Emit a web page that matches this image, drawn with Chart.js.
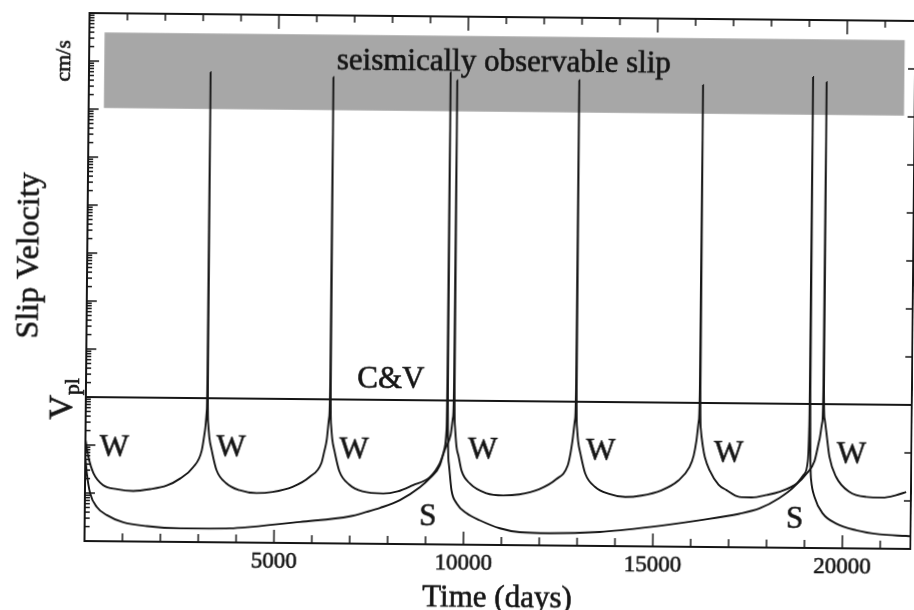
<!DOCTYPE html>
<html>
<head>
<meta charset="utf-8">
<script src="https://cdn.jsdelivr.net/npm/chart.js@4.4.0/dist/chart.umd.min.js"></script>
<style>
  html, body { margin: 0; padding: 0; background: #fff; overflow: hidden; }
  /* the scanned figure sits slightly tilted on the page */
  #wrap { width: 914px; height: 610px; transform: rotate(0.55deg); transform-origin: 500px 281px; }
</style>
</head>
<body>
<div id="wrap"><canvas id="chart" width="914" height="610"></canvas></div>
<script>
// time in days, slip velocity in units of V_pl (log axis)
const wDays = [
  0, 84, 220, 478, 846, 1276, 1719, 2159, 2507, 2847, 3072, 3153, 3195, 3203, 3210,
  3218, 3235, 3270, 3334, 3466, 3729, 4080, 4528, 4950, 5477, 5926, 6234, 6303, 6366, 6426, 6445, 6453,
  6461, 6478, 6513, 6577, 6709, 6972, 7323, 7872, 8250, 8650, 9096, 9357, 9500, 9635, 9695, 9714, 9722,
  9730, 9747, 9795, 9850, 9932, 10153, 10596, 11040, 11460, 11985, 12430, 12735, 12800, 12856, 12916, 12935, 12943,
  12951, 12968, 13003, 13067, 13199, 13462, 13813, 14261, 14683, 15210, 15659, 15950, 16057, 16123, 16183, 16202, 16210,
  16218, 16235, 16299, 16350, 16478, 16720, 16926, 17270, 17600, 18000, 18327, 18799, 19050, 19244, 19370, 19443, 19462, 19470,
  19478, 19500, 19544, 19639, 19821, 20174, 20617, 21047, 21408, 21672
];
const wVel = [
  0.13, 0.056, 0.026, 0.0147, 0.0122, 0.0113, 0.0124, 0.0149, 0.0209, 0.036, 0.081, 0.214, 0.56, 2.0, 6.2e6,
  2.0, 0.30, 0.15, 0.083, 0.032, 0.017, 0.0123, 0.0108, 0.0115, 0.0148, 0.024, 0.047, 0.08, 0.14, 0.42, 2.0, 5.2e6,
  2.0, 0.30, 0.15, 0.083, 0.032, 0.017, 0.0123, 0.0112, 0.0125, 0.0169, 0.025, 0.049, 0.10, 0.19, 0.45, 2.0, 4.7e6,
  2.0, 0.30, 0.108, 0.07, 0.035, 0.019, 0.0119, 0.0108, 0.0114, 0.0148, 0.024, 0.047, 0.08, 0.16, 0.43, 2.0, 5.0e6,
  2.0, 0.30, 0.15, 0.083, 0.032, 0.017, 0.0123, 0.0106, 0.0114, 0.0148, 0.024, 0.046, 0.08, 0.16, 0.43, 2.0, 4.2e6,
  2.0, 0.30, 0.12, 0.075, 0.040, 0.020, 0.0155, 0.0112, 0.0110, 0.0125, 0.0146, 0.0222, 0.036, 0.064, 0.18, 0.43, 2.0, 5.1e6,
  2.0, 0.5, 0.285, 0.080, 0.0305, 0.015, 0.0119, 0.0116, 0.0131, 0.0153
];

const sDays = [
  0, 45, 137, 319, 583, 1015, 1643, 2521, 3839, 4366, 5682, 6997, 7437, 7788, 8313, 8838, 9098, 9359, 9486, 9526, 9537, 9545,
  9553, 9595, 9673, 9810, 10077, 10428, 10957, 11485, 12274, 13593, 14909, 16227, 17277, 17806, 18300, 18720, 18960, 19070, 19098, 19105, 19112,
  19120, 19162, 19255, 19476, 19834, 20364, 20976, 21683, 21800
];
const sVel = [
  0.06, 0.026, 0.0099, 0.0051, 0.0035, 0.0025, 0.0021, 0.00192, 0.00197, 0.00212, 0.00276, 0.0037, 0.0046, 0.0056, 0.0082, 0.0154, 0.0238, 0.0446, 0.106, 0.24, 2.0, 6.9e6,
  2.0, 0.049, 0.0135, 0.00726, 0.00452, 0.00324, 0.00223, 0.00186, 0.0018, 0.00196, 0.00254, 0.00359, 0.0050, 0.0065, 0.0105, 0.019, 0.033, 0.065, 0.3, 2.0, 6.5e6,
  2.0, 0.026, 0.0116, 0.00525, 0.00326, 0.00239, 0.00199, 0.00186, 0.00184
];

const cvDays = [0, 21800];
const cvVel  = [1, 1];

const xTickValues = [1000, 2000, 3000, 4000, 5000, 6000, 7000, 8000, 9000, 10000, 11000,
                     12000, 13000, 14000, 15000, 16000, 17000, 18000, 19000, 20000, 21000];
const xLabelTicks = [5000, 10000, 15000, 20000];
const yDecades    = [-3, -2, -1, 0, 1, 2, 3, 4, 5, 6, 7, 8];
const yMinorSteps = [1, 2, 3, 4, 5, 6, 7, 8, 9];

// shaded band of seismically observable slip rates
const bandDays = [402, 21520];
const bandVel  = [1.06e6, 3.97e7];

const noteText = ['W', 'W', 'W', 'W', 'W', 'W', 'W', 'S', 'S', 'C&V', 'seismically observable slip'];
const noteDays = [762, 3846, 7090, 10490, 13600, 16977, 20218, 9056, 18732, 8046, 10946];
const noteVel  = [0.059, 0.062, 0.060, 0.0605, 0.0627, 0.059, 0.0594, 0.0025, 0.00255, 1.76, 7.4e6];

const FONT = '"Liberation Serif", "Times New Roman", serif';
const INK  = '#151515';

const yTickValues = [];
yDecades.forEach(d => {
  yMinorSteps.forEach(k => {
    const v = k * Math.pow(10, d);
    if (v <= 1e8) yTickValues.push(v);
  });
});

const toPoints = (xs, ys) => xs.map((x, i) => ({ x, y: ys[i] }));

// scanned print: text a little heavier than the plain face
function inkText(ctx, str, x, y) {
  ctx.fillText(str, x, y);
  ctx.strokeText(str, x, y);
}

// ── frame, inward ticks, band and hand-placed text ───────────────────
const decor = {
  id: 'decor',
  beforeDatasetsDraw(chart) {
    const { ctx, scales: { x, y } } = chart;
    const x0 = x.getPixelForValue(bandDays[0]), x1 = x.getPixelForValue(bandDays[1]);
    const y0 = y.getPixelForValue(bandVel[1]),  y1 = y.getPixelForValue(bandVel[0]);
    ctx.save();
    ctx.fillStyle = '#a7a7a7';
    ctx.fillRect(x0, y0, x1 - x0, y1 - y0);
    ctx.fillStyle = INK;
    ctx.strokeStyle = INK;
    ctx.lineWidth = 0.6;
    ctx.textAlign = 'center';
    ctx.textBaseline = 'alphabetic';
    ctx.font = '31px ' + FONT;
    const last = noteText.length - 1;
    inkText(ctx, noteText[last], x.getPixelForValue(noteDays[last]), y.getPixelForValue(noteVel[last]));
    ctx.restore();
  },
  afterDraw(chart) {
    const { ctx, chartArea: { left, right, top, bottom }, scales: { x, y } } = chart;
    const seg = (ax, ay, bx, by) => { ctx.beginPath(); ctx.moveTo(ax, ay); ctx.lineTo(bx, by); ctx.stroke(); };
    ctx.save();
    ctx.strokeStyle = INK;
    ctx.lineWidth = 2;
    ctx.strokeRect(left, top, right - left, bottom - top);

    ctx.lineWidth = 1.5;
    xTickValues.forEach(v => {
      const px = x.getPixelForValue(v);
      const major = xLabelTicks.includes(v);
      seg(px, bottom, px, bottom - (major ? 13 : 8));
      seg(px, top, px, top + (major ? 14 : 7));
    });
    yTickValues.forEach(v => {
      const py = y.getPixelForValue(v);
      const lg = Math.log10(v);
      const major = Math.abs(lg - Math.round(lg)) < 1e-6;
      seg(left, py, left + (major ? 10 : 5), py);
      if (major) seg(right, py, right - 7, py);
    });

    ctx.fillStyle = INK;
    ctx.lineWidth = 0.6;
    ctx.textAlign = 'center';
    ctx.textBaseline = 'alphabetic';

    // x tick labels
    ctx.font = '23px ' + FONT;
    xLabelTicks.forEach(v => inkText(ctx, String(v), x.getPixelForValue(v), bottom + 25));

    // curve labels
    ctx.font = '31px ' + FONT;
    for (let i = 0; i < noteText.length - 1; i++) {
      inkText(ctx, noteText[i], x.getPixelForValue(noteDays[i]), y.getPixelForValue(noteVel[i]));
    }

    // axis titles
    inkText(ctx, 'Time (days)', (left + right) / 2, 607);
    ctx.save();
    ctx.translate(38, 260);
    ctx.rotate(-Math.PI / 2);
    ctx.font = '32px ' + FONT;
    inkText(ctx, 'Slip Velocity', 0, 0);
    ctx.restore();

    // y labels: cm/s and V_pl
    ctx.save();
    ctx.translate(68, y.getPixelForValue(1e7));
    ctx.rotate(-Math.PI / 2);
    ctx.font = '22px ' + FONT;
    inkText(ctx, 'cm/s', 0, 0);
    ctx.restore();

    ctx.save();
    ctx.translate(73, y.getPixelForValue(1) + 2);
    ctx.rotate(-Math.PI / 2);
    ctx.textAlign = 'left';
    ctx.font = '34px ' + FONT;
    const wV = ctx.measureText('V').width;
    ctx.font = '22px ' + FONT;
    const wPl = ctx.measureText('pl').width;
    const start = -(wV + wPl) / 2;
    ctx.font = '34px ' + FONT;
    inkText(ctx, 'V', start, 0);
    ctx.font = '22px ' + FONT;
    inkText(ctx, 'pl', start + wV, 7);
    ctx.restore();

    ctx.restore();
  }
};

const lineStyle = {
  borderColor: INK,
  borderWidth: 1.9,
  pointRadius: 0,
  fill: false,
  cubicInterpolationMode: 'monotone',
};

new Chart(document.getElementById('chart'), {
  type: 'line',
  data: {
    datasets: [
      { label: 'W',   data: toPoints(wDays, wVel),   ...lineStyle },
      { label: 'S',   data: toPoints(sDays, sVel),   ...lineStyle },
      { label: 'C&V', data: toPoints(cvDays, cvVel), ...lineStyle, cubicInterpolationMode: 'default', tension: 0 },
    ],
  },
  options: {
    responsive: false,
    animation: false,
    layout: { padding: { top: 17, right: 1, left: 0, bottom: 0 } },
    plugins: { legend: { display: false }, tooltip: { enabled: false } },
    scales: {
      x: {
        type: 'linear',
        min: 0, max: 21800,
        grid: { display: false, drawTicks: false },
        border: { display: false },
        ticks: { display: false },
        afterFit: s => { s.height = 65; },
      },
      y: {
        type: 'logarithmic',
        min: 1e-3, max: 1e8,
        grid: { display: false, drawTicks: false },
        border: { display: false },
        ticks: { display: false },
        afterBuildTicks: s => { s.ticks = yTickValues.map(v => ({ value: v })); },
        afterFit: s => { s.width = 87; },
      },
    },
  },
  plugins: [decor],
});
</script>
</body>
</html>
